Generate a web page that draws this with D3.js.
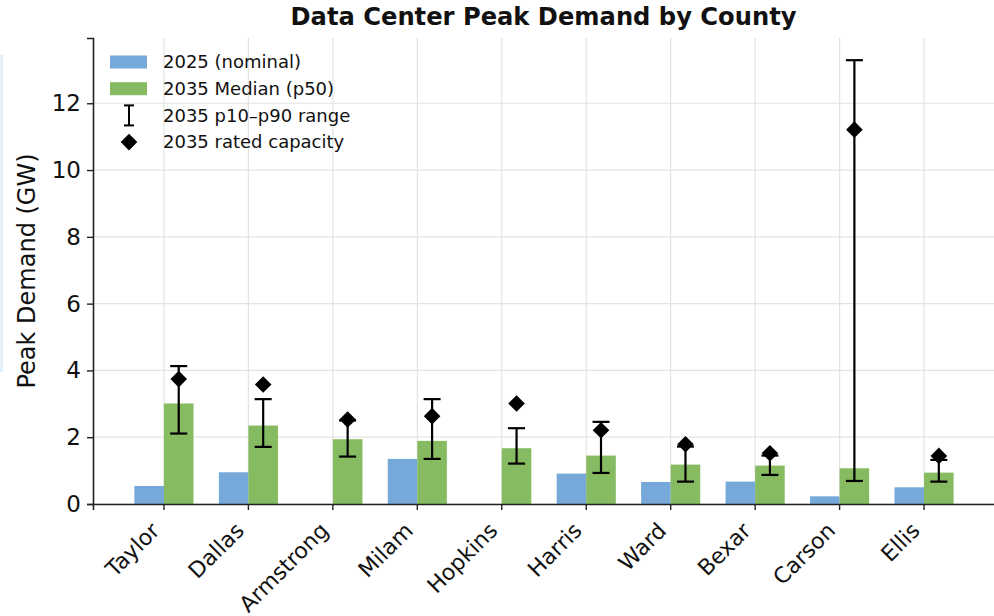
<!DOCTYPE html>
<html>
<head>
<meta charset="utf-8">
<script src="https://cdn.jsdelivr.net/npm/d3@7"></script>
<style>
  body { margin: 0; background: #fff; }
  text { font-family: "DejaVu Sans", sans-serif; fill: #111; }
</style>
</head>
<body>
<script>
  var w = 994, h = 616;
  var margin = { top: 38, right: 0, bottom: 112, left: 93 };

  // data
  var counties = ["Taylor", "Dallas", "Armstrong", "Milam", "Hopkins", "Harris", "Ward", "Bexar", "Carson", "Ellis"];
  var nominal2025 = [0.54, 0.95, 0, 1.35, 0, 0.91, 0.66, 0.67, 0.23, 0.50];
  var median2035 = [3.01, 2.35, 1.94, 1.89, 1.67, 1.45, 1.18, 1.15, 1.07, 0.94];
  var p10 = [2.11, 1.71, 1.42, 1.35, 1.21, 0.93, 0.67, 0.87, 0.69, 0.67];
  var p90 = [4.13, 3.14, 2.50, 3.14, 2.27, 2.46, 1.72, 1.45, 13.29, 1.32];
  var rated2035 = [3.74, 3.58, 2.53, 2.63, 3.01, 2.21, 1.79, 1.52, 11.21, 1.44];
  var yTicks = [0, 2, 4, 6, 8, 10, 12];

  var blue = "#76a9da", green = "#86bb62";

  var svg = d3.select("body").append("svg")
    .attr("width", w)
    .attr("height", h);

  // stray sliver at the left edge of the reference image
  svg.append("rect")
    .attr("x", 0).attr("y", 55).attr("width", 3).attr("height", 317)
    .attr("fill", "#e3f0fa");

  var x = d3.scaleBand()
    .domain(counties)
    .range([margin.left, w - margin.right + 1])
    .paddingInner(0)
    .paddingOuter(0.34);

  var y = d3.scaleLinear()
    .domain([0, d3.max(p90) * 1.05])
    .range([h - margin.bottom, margin.top]);

  var barW = x.step() * 0.35;
  function cx(d) { return x(d) + x.bandwidth() / 2; }

  // grid
  svg.append("g").selectAll("line.gy")
    .data(yTicks).enter().append("line")
    .attr("x1", margin.left).attr("x2", w)
    .attr("y1", function (d) { return y(d); })
    .attr("y2", function (d) { return y(d); })
    .attr("stroke", "#e3e3e3").attr("stroke-width", 1.2);
  svg.append("g").selectAll("line.gx")
    .data(counties).enter().append("line")
    .attr("x1", cx).attr("x2", cx)
    .attr("y1", y.range()[1]).attr("y2", y(0))
    .attr("stroke", "#e3e3e3").attr("stroke-width", 1.2);

  // bars
  svg.append("g").selectAll("rect")
    .data(counties).enter().append("rect")
    .attr("x", function (d) { return cx(d) - barW; })
    .attr("y", function (d, i) { return y(nominal2025[i]); })
    .attr("width", barW)
    .attr("height", function (d, i) { return y(0) - y(nominal2025[i]); })
    .attr("fill", blue);

  svg.append("g").selectAll("rect")
    .data(counties).enter().append("rect")
    .attr("x", function (d) { return cx(d); })
    .attr("y", function (d, i) { return y(median2035[i]); })
    .attr("width", barW)
    .attr("height", function (d, i) { return y(0) - y(median2035[i]); })
    .attr("fill", green);

  // error bars
  var capW = 8.5;
  var eb = svg.append("g").attr("stroke", "#000").attr("stroke-width", 2.2);
  counties.forEach(function (c, i) {
    var ex = cx(c) + barW / 2;
    eb.append("line").attr("x1", ex).attr("x2", ex)
      .attr("y1", y(p10[i])).attr("y2", y(p90[i]));
    [p10[i], p90[i]].forEach(function (v) {
      eb.append("line").attr("x1", ex - capW).attr("x2", ex + capW)
        .attr("y1", y(v)).attr("y2", y(v));
    });
  });

  // rated capacity diamonds
  var diamond = d3.symbol().type(d3.symbolSquare).size(138);
  svg.append("g").selectAll("path")
    .data(counties).enter().append("path")
    .attr("d", diamond)
    .attr("transform", function (d, i) {
      return "translate(" + (cx(d) + barW / 2) + "," + y(rated2035[i]) + ") rotate(45)";
    })
    .attr("fill", "#000");

  // axes
  var yAxis = d3.axisLeft(y).tickValues(yTicks).tickSize(6).tickPadding(6);
  svg.append("g")
    .attr("transform", "translate(" + margin.left + ",0)")
    .call(yAxis)
    .call(function (g) {
      g.select(".domain").attr("stroke", "#222").attr("stroke-width", 1.6);
      g.selectAll(".tick line").attr("stroke", "#222").attr("stroke-width", 1.4);
      g.selectAll(".tick text").attr("font-size", 23).attr("fill", "#111");
    });

  var xAxis = d3.axisBottom(x).tickSize(6).tickPadding(6);
  svg.append("g")
    .attr("transform", "translate(0," + y(0) + ")")
    .call(xAxis)
    .call(function (g) {
      g.select(".domain").attr("stroke", "#222").attr("stroke-width", 1.6);
      g.selectAll(".tick line").attr("stroke", "#222").attr("stroke-width", 1.4);
      g.selectAll(".tick text")
        .attr("font-size", 22).attr("fill", "#111")
        .attr("text-anchor", "end")
        .attr("dy", null).attr("y", null)
        .attr("transform", "translate(-3,28) rotate(-45)");
    });

  // title and y label
  svg.append("text")
    .attr("x", (margin.left + w) / 2).attr("y", 25)
    .attr("text-anchor", "middle")
    .attr("font-size", 24.2).attr("font-weight", "bold")
    .text("Data Center Peak Demand by County");

  svg.append("text")
    .attr("transform", "translate(35," + ((y.range()[0] + y.range()[1]) / 2) + ") rotate(-90)")
    .attr("text-anchor", "middle")
    .attr("font-size", 24)
    .text("Peak Demand (GW)");

  // legend
  var lg = svg.append("g").attr("transform", "translate(110,62)");
  var rowH = 26.7;
  lg.append("rect").attr("x", 0).attr("y", -6.5).attr("width", 37).attr("height", 13).attr("fill", blue);
  lg.append("rect").attr("x", 0).attr("y", rowH - 6.5).attr("width", 37).attr("height", 13).attr("fill", green);
  var ly = rowH * 2;
  lg.append("line").attr("x1", 19).attr("x2", 19).attr("y1", ly - 10).attr("y2", ly + 10)
    .attr("stroke", "#000").attr("stroke-width", 2);
  [ly - 10, ly + 10].forEach(function (v) {
    lg.append("line").attr("x1", 14).attr("x2", 24).attr("y1", v).attr("y2", v)
      .attr("stroke", "#000").attr("stroke-width", 2);
  });
  lg.append("path").attr("d", diamond)
    .attr("transform", "translate(19," + (rowH * 3) + ") rotate(45)")
    .attr("fill", "#000");
  var labels = ["2025 (nominal)", "2035 Median (p50)", "2035 p10\u2013p90 range", "2035 rated capacity"];
  lg.selectAll("text.lab").data(labels).enter().append("text")
    .attr("x", 53)
    .attr("y", function (d, i) { return i * rowH; })
    .attr("dy", "0.35em")
    .attr("font-size", 18)
    .text(function (d) { return d; });
</script>
</body>
</html>
